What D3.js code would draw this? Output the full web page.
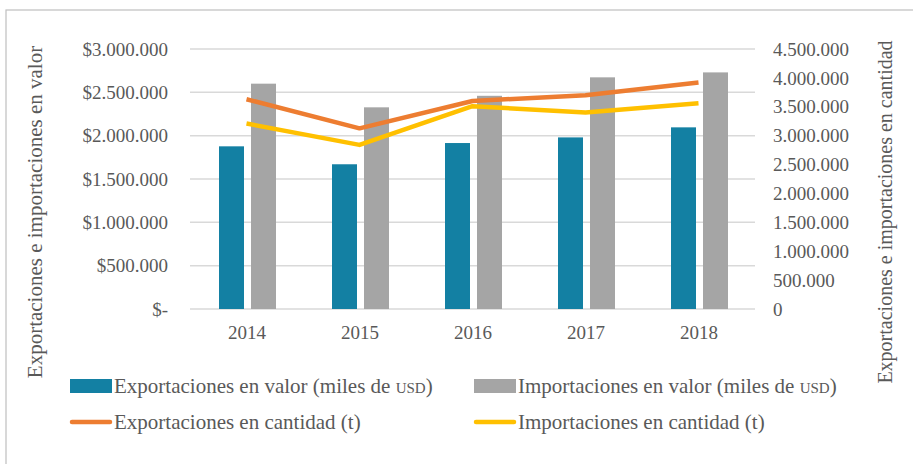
<!DOCTYPE html>
<html>
<head>
<meta charset="utf-8">
<script src="https://cdn.jsdelivr.net/npm/d3@7"></script>
<style>
  body { margin: 0; background: #fff; }
  svg { font-family: 'Liberation Serif', 'DejaVu Serif', serif; }
</style>
</head>
<body>
<svg id="canvas" width="913" height="464"></svg>
<script>
let years = ['2014', '2015', '2016', '2017', '2018']
let exportValue = [1877000, 1670000, 1915000, 1980000, 2096000]
let importValue = [2600000, 2327000, 2460000, 2673000, 2730000]
let exportQty = [3630000, 3127000, 3600000, 3700000, 3920000]
let importQty = [3210000, 2840000, 3510000, 3400000, 3560000]
let leftTicks = [0, 500000, 1000000, 1500000, 2000000, 2500000, 3000000]
let rightTicks = [0, 500000, 1000000, 1500000, 2000000, 2500000, 3000000, 3500000, 4000000, 4500000]

let canvas = d3.select('#canvas')
let textColor = '#595959'

let locale = d3.formatLocale({decimal: ',', thousands: '.', grouping: [3], currency: ['$', '']})
let fmt = locale.format(',.0f')

let plotTop = 49, plotBottom = 309, plotLeft = 190, plotRight = 755

let xScale = d3.scaleBand().domain(years).range([plotLeft, plotRight])
let inner = d3.scaleBand().domain(['exp', 'imp']).range([0, 57]).paddingInner(0.21875)
let yLeft = d3.scaleLinear().domain([0, 3000000]).range([plotBottom, plotTop])
let yRight = d3.scaleLinear().domain([0, 4500000]).range([plotBottom, plotTop])

// frame
canvas.append('rect')
      .attr('x', 6).attr('y', 10)
      .attr('width', 940).attr('height', 480)
      .attr('fill', 'none')
      .attr('stroke', '#bfbfbf')
      .attr('stroke-width', 1.2)

// gridlines
canvas.append('g')
      .selectAll('line')
      .data(leftTicks)
      .enter()
      .append('line')
      .attr('x1', plotLeft).attr('x2', plotRight)
      .attr('y1', (d) => yLeft(d)).attr('y2', (d) => yLeft(d))
      .attr('stroke', '#d9d9d9')
      .attr('stroke-width', 1.5)

// left axis labels
canvas.append('g')
      .selectAll('text')
      .data(leftTicks)
      .enter()
      .append('text')
      .attr('x', 168)
      .attr('y', (d) => yLeft(d))
      .attr('dy', '0.35em')
      .attr('text-anchor', 'end')
      .attr('fill', textColor)
      .style('font-size', '19px')
      .text((d) => d === 0 ? '$-' : '$' + fmt(d))

// right axis labels
canvas.append('g')
      .selectAll('text')
      .data(rightTicks)
      .enter()
      .append('text')
      .attr('x', 773)
      .attr('y', (d) => yRight(d))
      .attr('dy', '0.35em')
      .attr('fill', textColor)
      .style('font-size', '19px')
      .text((d) => fmt(d))

// x labels
canvas.append('g')
      .selectAll('text')
      .data(years)
      .enter()
      .append('text')
      .attr('x', (d) => xScale(d) + xScale.bandwidth() / 2 + 0.5)
      .attr('y', 339)
      .attr('text-anchor', 'middle')
      .attr('fill', textColor)
      .style('font-size', '19px')
      .text((d) => d)

// bars
let groupStart = (year) => xScale(year) + xScale.bandwidth() / 2 + 1 - 28.5

canvas.append('g')
      .selectAll('rect')
      .data(years)
      .enter()
      .append('rect')
      .attr('x', (d) => groupStart(d) + inner('exp'))
      .attr('y', (d, i) => yLeft(exportValue[i]))
      .attr('width', inner.bandwidth())
      .attr('height', (d, i) => plotBottom - yLeft(exportValue[i]))
      .attr('fill', '#1380a3')

canvas.append('g')
      .selectAll('rect')
      .data(years)
      .enter()
      .append('rect')
      .attr('x', (d) => groupStart(d) + inner('imp'))
      .attr('y', (d, i) => yLeft(importValue[i]))
      .attr('width', inner.bandwidth())
      .attr('height', (d, i) => plotBottom - yLeft(importValue[i]))
      .attr('fill', '#a5a5a5')

// lines
let drawLine = (values, color) => {
    let line = d3.line()
                 .x((d, i) => xScale(years[i]) + xScale.bandwidth() / 2)
                 .y((d) => yRight(d))
    canvas.append('path')
          .datum(values)
          .attr('d', line)
          .attr('fill', 'none')
          .attr('stroke', color)
          .attr('stroke-width', 4.5)
          .attr('stroke-linejoin', 'round')
}
drawLine(exportQty, '#ed7d31')
drawLine(importQty, '#ffc000')

// axis titles
canvas.append('text')
      .attr('transform', 'translate(42, 212) rotate(-90)')
      .attr('text-anchor', 'middle')
      .attr('fill', textColor)
      .style('font-size', '21px')
      .text('Exportaciones e importaciones en valor')

canvas.append('text')
      .attr('transform', 'translate(892, 212) rotate(-90)')
      .attr('text-anchor', 'middle')
      .attr('fill', textColor)
      .style('font-size', '20px')
      .text('Exportaciones e importaciones en cantidad')

// legend
let legendItems = [
    {type: 'bar', color: '#1380a3', label: 'Exportaciones en valor (miles de ', caps: 'usd', x: 70, y: 386},
    {type: 'bar', color: '#a5a5a5', label: 'Importaciones en valor (miles de ', caps: 'usd', x: 474, y: 386},
    {type: 'line', color: '#ed7d31', label: 'Exportaciones en cantidad (t)', x: 70, y: 422},
    {type: 'line', color: '#ffc000', label: 'Importaciones en cantidad (t)', x: 474, y: 422}
]

let legend = canvas.append('g')
                   .selectAll('g')
                   .data(legendItems)
                   .enter()
                   .append('g')
                   .attr('transform', (d) => 'translate(' + d.x + ', ' + d.y + ')')

legend.filter((d) => d.type === 'bar')
      .append('rect')
      .attr('x', 0).attr('y', -7)
      .attr('width', 42).attr('height', 14)
      .attr('fill', (d) => d.color)

legend.filter((d) => d.type === 'line')
      .append('line')
      .attr('x1', 2).attr('x2', 40)
      .attr('y1', 0).attr('y2', 0)
      .attr('stroke', (d) => d.color)
      .attr('stroke-width', 4.5)
      .attr('stroke-linecap', 'round')

let legendText = legend.append('text')
                       .attr('x', 44)
                       .attr('y', 0)
                       .attr('dy', '0.35em')
                       .attr('fill', textColor)
                       .style('font-size', '21px')

legendText.append('tspan').text((d) => d.label)
legendText.filter((d) => d.caps)
          .append('tspan')
          .style('font-variant', 'small-caps')
          .text((d) => d.caps)
legendText.filter((d) => d.caps)
          .append('tspan')
          .text(')')
</script>
</body>
</html>
